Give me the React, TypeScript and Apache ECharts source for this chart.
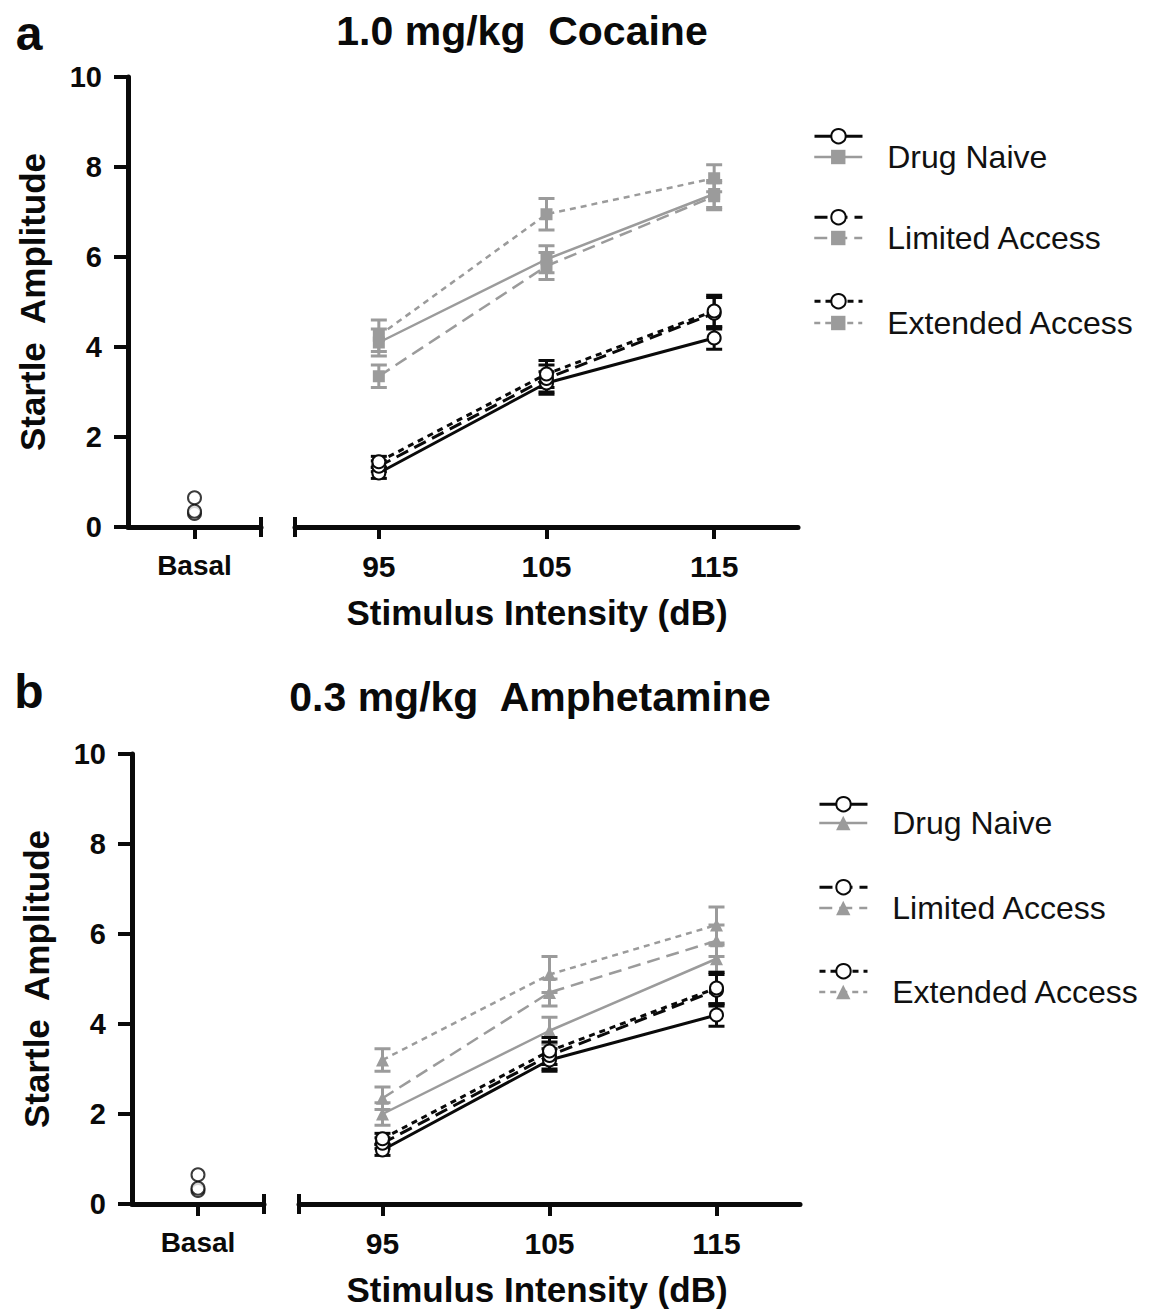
import React, { useEffect, useRef } from 'react';
import * as echarts from 'echarts';

// ---------- data ----------
const intensities = [95, 105, 115];
const basalCategory = ['Basal'];
const groupLabels = ['Drug Naive', 'Limited Access', 'Extended Access'];
const yTickInterval = 2;

// Panel a: 1.0 mg/kg Cocaine (gray = drug, black = saline)
const aGrayNaive = [4.1, 5.95, 7.4];
const aGrayNaiveErr = [0.3, 0.3, 0.3];
const aGrayLimited = [3.35, 5.8, 7.35];
const aGrayLimitedErr = [0.25, 0.3, 0.3];
const aGrayExtended = [4.25, 6.95, 7.75];
const aGrayExtendedErr = [0.35, 0.35, 0.3];

const aBlackNaive = [1.2, 3.2, 4.2];
const aBlackNaiveErr = [0.12, 0.25, 0.25];
const aBlackLimited = [1.35, 3.3, 4.75];
const aBlackLimitedErr = [0.12, 0.3, 0.35];
const aBlackExtended = [1.45, 3.4, 4.8];
const aBlackExtendedErr = [0.12, 0.3, 0.35];

const aBasal = [0.3, 0.65, 0.35];

// Panel b: 0.3 mg/kg Amphetamine
const bGrayNaive = [2.0, 3.85, 5.45];
const bGrayNaiveErr = [0.25, 0.3, 0.3];
const bGrayLimited = [2.35, 4.7, 5.85];
const bGrayLimitedErr = [0.25, 0.3, 0.35];
const bGrayExtended = [3.2, 5.1, 6.2];
const bGrayExtendedErr = [0.25, 0.4, 0.4];

const bBlackNaive = [1.2, 3.2, 4.2];
const bBlackNaiveErr = [0.12, 0.25, 0.25];
const bBlackLimited = [1.35, 3.3, 4.75];
const bBlackLimitedErr = [0.12, 0.3, 0.35];
const bBlackExtended = [1.45, 3.4, 4.8];
const bBlackExtendedErr = [0.12, 0.3, 0.35];

const bBasal = [0.3, 0.65, 0.35];

// ---------- styling ----------
const FONT = "'Liberation Sans', Arial, Helvetica, sans-serif";
const GRAY = '#9b9b9b';
const BLACK = '#0a0a0a';
const DASHES: any[] = ['solid', [13, 7], [6, 5]];

type Panel = {
  key: string;
  letter: string;
  title: string;
  graySymbol: string;
  gray: number[][];
  grayErr: number[][];
  black: number[][];
  blackErr: number[][];
  basal: number[];
  L: {
    basalGrid: { left: number; top: number; width: number; height: number };
    mainGrid: { left: number; top: number; width: number; height: number };
    letter: [number, number];
    title: [number, number];
    legendLeft: number;
    blackY: number[];
    grayY: number[];
    xNameShift: number;
  };
};

const panels: Panel[] = [
  {
    key: 'a',
    letter: 'a',
    title: '1.0 mg/kg  Cocaine',
    graySymbol: 'rect',
    gray: [aGrayNaive, aGrayLimited, aGrayExtended],
    grayErr: [aGrayNaiveErr, aGrayLimitedErr, aGrayExtendedErr],
    black: [aBlackNaive, aBlackLimited, aBlackExtended],
    blackErr: [aBlackNaiveErr, aBlackLimitedErr, aBlackExtendedErr],
    basal: aBasal,
    L: {
      basalGrid: { left: 128, top: 77, width: 133, height: 450 },
      mainGrid: { left: 295, top: 77, width: 503, height: 450 },
      letter: [29, 33],
      title: [522, 31],
      legendLeft: 813,
      blackY: [137, 218, 302],
      grayY: [157, 238, 323],
      xNameShift: 19,
    },
  },
  {
    key: 'b',
    letter: 'b',
    title: '0.3 mg/kg  Amphetamine',
    graySymbol: 'triangle',
    gray: [bGrayNaive, bGrayLimited, bGrayExtended],
    grayErr: [bGrayNaiveErr, bGrayLimitedErr, bGrayExtendedErr],
    black: [bBlackNaive, bBlackLimited, bBlackExtended],
    blackErr: [bBlackNaiveErr, bBlackLimitedErr, bBlackExtendedErr],
    basal: bBasal,
    L: {
      basalGrid: { left: 132, top: 754, width: 132, height: 450 },
      mainGrid: { left: 299, top: 754, width: 501, height: 450 },
      letter: [29, 691],
      title: [530, 697],
      legendLeft: 818,
      blackY: [805, 888, 972],
      grayY: [823, 908, 992],
      xNameShift: 25,
    },
  },
];

function errRender(color: string) {
  return (params: any, api: any) => {
    const x = api.value(0);
    const lo = api.value(1);
    const hi = api.value(2);
    const pLo = api.coord([x, lo]);
    const pHi = api.coord([x, hi]);
    const hw = 8;
    const style = { stroke: color, lineWidth: 3 };
    return {
      type: 'group',
      children: [
        { type: 'line', shape: { x1: pLo[0], y1: pLo[1], x2: pHi[0], y2: pHi[1] }, style },
        { type: 'line', shape: { x1: pHi[0] - hw, y1: pHi[1], x2: pHi[0] + hw, y2: pHi[1] }, style },
        { type: 'line', shape: { x1: pLo[0] - hw, y1: pLo[1], x2: pLo[0] + hw, y2: pLo[1] }, style },
      ],
    };
  };
}

function buildOption() {
  const grid: any[] = [];
  const xAxis: any[] = [];
  const yAxis: any[] = [];
  const series: any[] = [];
  const legend: any[] = [];
  const graphic: any[] = [];

  const axisLineStyle = { color: BLACK, width: 5 };
  const tickStyle = { color: BLACK, width: 4 };
  const IH = 18;

  panels.forEach((p, pi) => {
    const L = p.L;
    grid.push({ ...L.basalGrid, containLabel: false });
    grid.push({ ...L.mainGrid, containLabel: false });
    const xb = pi * 2;
    const xm = pi * 2 + 1;

    // basal x axis
    xAxis.push({
      gridIndex: xb,
      type: 'value',
      min: 0,
      max: 2,
      axisLine: {
        show: true,
        onZero: true,
        lineStyle: axisLineStyle,
        symbol: ['none', 'rect'],
        symbolSize: [20, 4],
      },
      axisTick: { show: true, customValues: [1], length: 12, lineStyle: tickStyle },
      axisLabel: {
        show: true,
        customValues: [1],
        formatter: () => basalCategory[0],
        fontFamily: FONT,
        fontWeight: 'bold',
        fontSize: 28,
        color: BLACK,
        margin: 24,
      },
      splitLine: { show: false },
    });
    // main x axis
    xAxis.push({
      gridIndex: xm,
      type: 'value',
      min: 90,
      max: 120,
      axisLine: {
        show: true,
        onZero: true,
        lineStyle: axisLineStyle,
        symbol: ['rect', 'none'],
        symbolSize: [20, 4],
      },
      axisTick: { show: true, customValues: intensities, length: 12, lineStyle: tickStyle },
      axisLabel: {
        show: true,
        customValues: intensities,
        fontFamily: FONT,
        fontWeight: 'bold',
        fontSize: 30,
        color: BLACK,
        margin: 24,
      },
      splitLine: { show: false },
      name: 'Stimulus Intensity (dB)',
      nameLocation: 'middle',
      nameGap: 68,
      nameTextStyle: {
        fontFamily: FONT,
        fontWeight: 'bold',
        fontSize: 35,
        color: BLACK,
        padding: [0, L.xNameShift, 0, 0],
      },
    });
    // basal y axis (visible)
    yAxis.push({
      gridIndex: xb,
      type: 'value',
      min: 0,
      max: 10,
      interval: yTickInterval,
      axisLine: { show: true, onZero: false, lineStyle: axisLineStyle },
      axisTick: { show: true, length: 14, lineStyle: tickStyle },
      axisLabel: {
        fontFamily: FONT,
        fontWeight: 'bold',
        fontSize: 29,
        color: BLACK,
        margin: 26,
      },
      splitLine: { show: false },
      name: 'Startle  Amplitude',
      nameLocation: 'middle',
      nameRotate: 90,
      nameGap: 78,
      nameTextStyle: { fontFamily: FONT, fontWeight: 'bold', fontSize: 35, color: BLACK },
    });
    // main y axis (hidden, same scale)
    yAxis.push({
      gridIndex: xm,
      type: 'value',
      min: 0,
      max: 10,
      interval: yTickInterval,
      show: false,
      splitLine: { show: false },
    });

    // series
    for (let g = 0; g < 3; g++) {
      const grayName = `${p.key}-gray-${g}`;
      const blackName = `${p.key}-black-${g}`;
      // gray error bars
      series.push({
        type: 'custom',
        name: `${grayName}-err`,
        xAxisIndex: xm,
        yAxisIndex: xm,
        z: 2,
        renderItem: errRender(GRAY),
        encode: { x: 0, y: [1, 2] },
        data: intensities.map((x, i) => [x, p.gray[g][i] - p.grayErr[g][i], p.gray[g][i] + p.grayErr[g][i]]),
      });
      series.push({
        type: 'line',
        name: grayName,
        xAxisIndex: xm,
        yAxisIndex: xm,
        z: 3,
        data: intensities.map((x, i) => [x, p.gray[g][i]]),
        symbol: p.graySymbol,
        symbolSize: p.graySymbol === 'triangle' ? 13 : 12,
        showAllSymbol: true,
        lineStyle: { color: GRAY, width: 2.5, type: DASHES[g] },
        itemStyle: { color: GRAY },
      });
      // black error bars
      series.push({
        type: 'custom',
        name: `${blackName}-err`,
        xAxisIndex: xm,
        yAxisIndex: xm,
        z: 4,
        renderItem: errRender(BLACK),
        encode: { x: 0, y: [1, 2] },
        data: intensities.map((x, i) => [x, p.black[g][i] - p.blackErr[g][i], p.black[g][i] + p.blackErr[g][i]]),
      });
      series.push({
        type: 'line',
        name: blackName,
        xAxisIndex: xm,
        yAxisIndex: xm,
        z: 5,
        data: intensities.map((x, i) => [x, p.black[g][i]]),
        symbol: 'emptyCircle',
        symbolSize: 13,
        showAllSymbol: true,
        lineStyle: { color: BLACK, width: 3, type: DASHES[g] },
        itemStyle: { color: BLACK, borderColor: BLACK, borderWidth: 3 },
      });
      // basal point
      series.push({
        type: 'scatter',
        name: `${p.key}-basal-${g}`,
        xAxisIndex: xb,
        yAxisIndex: xb,
        z: 5,
        data: [[1, p.basal[g]]],
        symbol: 'emptyCircle',
        symbolSize: 13,
        itemStyle: { color: BLACK, borderColor: BLACK, borderWidth: 3 },
      });

      // legends
      legend.push({
        left: L.legendLeft,
        top: L.blackY[g] - IH / 2,
        orient: 'horizontal',
        padding: 0,
        itemGap: 0,
        itemWidth: 48,
        itemHeight: IH,
        selectedMode: false,
        data: [blackName],
        formatter: () => '',
        lineStyle: { width: 3 },
        itemStyle: { borderWidth: 3 },
        textStyle: { fontSize: 1, lineHeight: IH },
      });
      legend.push({
        left: L.legendLeft,
        top: L.grayY[g] - IH / 2 - 7,
        orient: 'horizontal',
        padding: 0,
        itemGap: 0,
        itemWidth: 48,
        itemHeight: IH,
        selectedMode: false,
        data: [grayName],
        formatter: () => groupLabels[g],
        lineStyle: { width: 2.5 },
        textStyle: {
          fontFamily: FONT,
          fontSize: 32,
          color: '#111',
          lineHeight: IH,
          padding: [0, 0, 0, 20],
        },
      });
    }

    graphic.push({
      type: 'text',
      x: L.letter[0],
      y: L.letter[1],
      style: {
        text: p.letter,
        font: `bold 48px ${FONT}`,
        fill: BLACK,
        textAlign: 'center',
        textVerticalAlign: 'middle',
      },
    });
    graphic.push({
      type: 'text',
      x: L.title[0],
      y: L.title[1],
      style: {
        text: p.title,
        font: `bold 41px ${FONT}`,
        fill: BLACK,
        textAlign: 'center',
        textVerticalAlign: 'middle',
      },
    });
  });

  return {
    animation: false,
    backgroundColor: '#ffffff',
    textStyle: { fontFamily: FONT },
    grid,
    xAxis,
    yAxis,
    series,
    legend,
    graphic,
  };
}

export default function App() {
  const ref = useRef<HTMLDivElement>(null);
  useEffect(() => {
    document.body.style.margin = '0';
    const chart = echarts.init(ref.current as HTMLDivElement, null, { renderer: 'svg' });
    chart.setOption(buildOption() as any);
    return () => {
      chart.dispose();
    };
  }, []);
  return <div ref={ref} style={{ width: 1149, height: 1311 }} />;
}
